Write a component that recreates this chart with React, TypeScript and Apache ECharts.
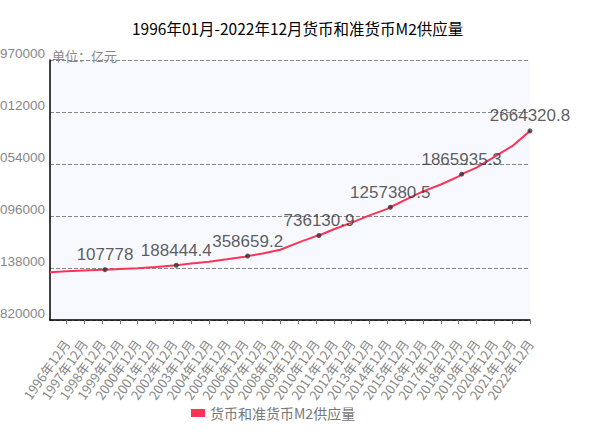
import React, { useEffect, useRef } from "react";
import * as echarts from "echarts";

const titleText = "1996年01月-2022年12月货币和准货币M2供应量";
const seriesName = "货币和准货币M2供应量";
const unitText = "单位：亿元";

const startYear = 1996;
const endYear = 2022;

// value at 1996年01月
const startValue = 59600;

// year-end (12月) values, 1996..2022
const yearEndValues = [
  76094.9, 90995.3, 104498.5, 119897.9, 134610.3, 158301.9, 185007.0, 221222.8,
  253207.7, 298755.7, 345577.9, 403442.2, 475166.6, 606225.0, 725851.8, 851590.9,
  974148.8, 1106525.0, 1228374.8, 1392278.1, 1550066.7, 1676768.5, 1826744.2,
  1986488.2, 2186795.9, 2382899.6, 2664320.8,
];

// labelled points
const markMonths = ["1999年02月", "2003年02月", "2007年02月", "2011年02月", "2015年02月", "2019年02月", "2022年12月"];
const markValues = [107778, 188444.4, 358659.2, 736130.9, 1257380.5, 1865935.3, 2664320.8];

// y axis
const yMin = -820000;
const yMax = 3970000;
const yInterval = 958000;

const months: string[] = [];
for (let y = startYear; y <= endYear; y++) {
  for (let m = 1; m <= 12; m++) {
    months.push(`${y}年${m < 10 ? "0" + m : m}月`);
  }
}

export default function App() {
  const ref = useRef<HTMLDivElement>(null);

  useEffect(() => {
    if (!ref.current) return;
    const chart = echarts.init(ref.current, null, { renderer: "svg" });

    const lineData: (number | null)[] = months.map(() => null);
    lineData[0] = startValue;
    yearEndValues.forEach((v, i) => {
      lineData[i * 12 + 11] = v;
    });
    const scatterData: [number, number][] = [];
    markMonths.forEach((m, i) => {
      const idx = months.indexOf(m);
      lineData[idx] = markValues[i];
      scatterData.push([idx, markValues[i]]);
    });

    const showDec = (index: number) => index % 12 === 11;

    chart.setOption({
      animation: false,
      backgroundColor: "#ffffff",
      title: {
        text: titleText,
        left: 127,
        top: 15,
        textStyle: {
          fontSize: 15.5,
          fontWeight: "normal",
          color: "#000000",
          fontFamily: "'Noto Sans CJK SC', sans-serif",
        },
      },
      legend: {
        left: 186,
        top: 401,
        icon: "rect",
        itemWidth: 14,
        itemHeight: 8,
        itemGap: 5,
        data: [seriesName],
        textStyle: {
          fontSize: 14,
          color: "#777777",
          fontFamily: "'Noto Sans CJK SC', sans-serif",
        },
      },
      graphic: [
        {
          type: "text",
          left: 52,
          top: 49,
          style: {
            text: unitText,
            fontSize: 13,
            fill: "#888888",
            fontFamily: "'Noto Sans CJK SC', sans-serif",
          },
        },
      ],
      grid: {
        left: 50,
        right: 80,
        top: 60,
        bottom: 116,
        containLabel: false,
        outerBoundsMode: "none",
        show: true,
        backgroundColor: "#f8f9ff",
        borderWidth: 0,
      },
      xAxis: {
        type: "category",
        data: months,
        boundaryGap: false,
        axisLine: { show: true, onZero: false, lineStyle: { color: "#000000", width: 1.5 } },
        axisTick: { show: true, interval: showDec, length: 4, lineStyle: { color: "#777777" } },
        axisLabel: {
          interval: showDec,
          rotate: 55,
          margin: 21,
          fontSize: 13,
          hideOverlap: false,
          color: "#888888",
          fontFamily: "'Noto Sans CJK SC', sans-serif",
        },
        splitLine: { show: false },
      },
      yAxis: {
        type: "value",
        min: yMin,
        max: yMax,
        interval: yInterval,
        axisLine: { show: true, lineStyle: { color: "#000000", width: 1.5 } },
        axisTick: { show: false },
        axisLabel: {
          margin: 5,
          fontSize: 13.5,
          color: "#888888",
          verticalAlign: "bottom",
          fontFamily: "'Liberation Sans', Arial, sans-serif",
          formatter: (v: number) => String(v),
        },
        splitLine: { show: true, lineStyle: { color: "#888888", type: "dashed", width: 1 } },
      },
      series: [
        {
          name: seriesName,
          type: "line",
          data: lineData,
          connectNulls: true,
          symbol: "none",
          color: "#ff3355",
          lineStyle: { color: "#ff3355", width: 2 },
          z: 2,
        },
        {
          name: "marks",
          type: "scatter",
          data: scatterData,
          symbol: "circle",
          symbolSize: 5,
          itemStyle: { color: "#333333" },
          label: {
            show: true,
            position: "top",
            distance: 4,
            fontSize: 17,
            color: "#333333",
            fontFamily: "'Liberation Sans', Arial, sans-serif",
            formatter: (p: any) => String(p.value[1]),
          },
          z: 3,
        },
      ],
    });

    return () => chart.dispose();
  }, []);

  return (
    <div
      ref={ref}
      style={{ position: "fixed", left: 0, top: 0, width: 610, height: 436 }}
    />
  );
}
